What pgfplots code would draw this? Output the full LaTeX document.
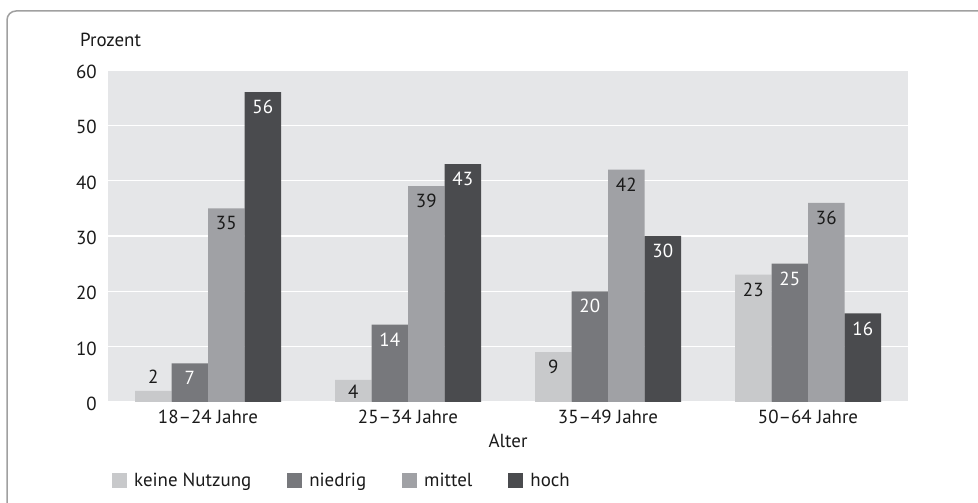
\documentclass[border=0pt]{standalone}
\usepackage{pgfplots}
\pgfplotsset{compat=1.18}
\usepackage{fontspec}
\setmainfont{PT Sans}
\definecolor{cA}{HTML}{C8C9CB}
\definecolor{cB}{HTML}{77787C}
\definecolor{cC}{HTML}{A0A1A5}
\definecolor{cD}{HTML}{4A4B4E}
\definecolor{bgc}{HTML}{E5E6E8}
\definecolor{txt}{HTML}{1A1A1A}
\definecolor{frame}{HTML}{A0A0A0}
\begin{document}
\begin{tikzpicture}[x=1bp,y=1bp,font=\fontsize{19}{22}\selectfont]
\useasboundingbox (0,0) rectangle (978,503);
\begin{scope}
\clip (0,0) rectangle (978,503);
\draw[frame, line width=1.5bp, rounded corners=9bp] (7,-20) -- (7,492) -- (1000,492);
\end{scope}
\begin{axis}[
  at={(108bp,101bp)}, anchor=south west,
  scale only axis, width=800bp, height=332bp,
  ybar=0pt, bar width=0.1825,
  xmin=-0.5, xmax=3.5, ymin=0, ymax=60,
  enlarge x limits=false,
  xtick={0,1,2,3},
  xticklabels={18–24 Jahre, 25–34 Jahre, 35–49 Jahre, 50–64 Jahre},
  ytick={0,10,20,30,40,50,60},
  axis line style={draw=none},
  major tick length=0pt,
  ymajorgrids, grid style={white, line width=1.5bp},
  axis background/.style={fill=bgc},
  tick label style={text=txt},
  xticklabel style={anchor=north, inner sep=0pt, yshift=-8bp},
  yticklabel style={anchor=east, inner sep=0pt, xshift=-11bp, yshift=-2bp},
  /pgf/number format/assume math mode=true,
  xlabel={Alter},
  xlabel style={at={(axis description cs:0.5,0)}, anchor=north, inner sep=0pt, yshift=-32bp, text=txt},
  ylabel={Prozent},
  ylabel style={rotate=-90, at={(axis description cs:0,1)}, anchor=west, inner sep=0pt, xshift=-28bp, yshift=30bp, text=txt},
  legend style={at={(axis description cs:0,0)}, anchor=west, xshift=1bp, yshift=-79bp,
    draw=none, fill=none, legend columns=4, column sep=7bp,
    /tikz/every even column/.append style={column sep=36bp},
    nodes={inner sep=0pt, text=txt}},
  legend image code/.code={\fill[#1] (0bp,-7.5bp) rectangle (15bp,7.5bp);},
  nodes near coords,
  visualization depends on={y \as \rawy},
  every node near coord/.append style={anchor=north, inner sep=0pt, yshift={ifthenelse(\rawy<3,21,ifthenelse(\rawy<5,-5,-8))}},
]
\addplot[fill=cA, draw=none, every node near coord/.append style={text=txt}] coordinates {(0,2) (1,4) (2,9) (3,23)};
\addplot[fill=cB, draw=none, every node near coord/.append style={text=white}] coordinates {(0,7) (1,14) (2,20) (3,25)};
\addplot[fill=cC, draw=none, every node near coord/.append style={text=txt}] coordinates {(0,35) (1,39) (2,42) (3,36)};
\addplot[fill=cD, draw=none, every node near coord/.append style={text=white}] coordinates {(0,56) (1,43) (2,30) (3,16)};
\legend{keine Nutzung, niedrig, mittel, hoch}
\end{axis}
\end{tikzpicture}
\end{document}
